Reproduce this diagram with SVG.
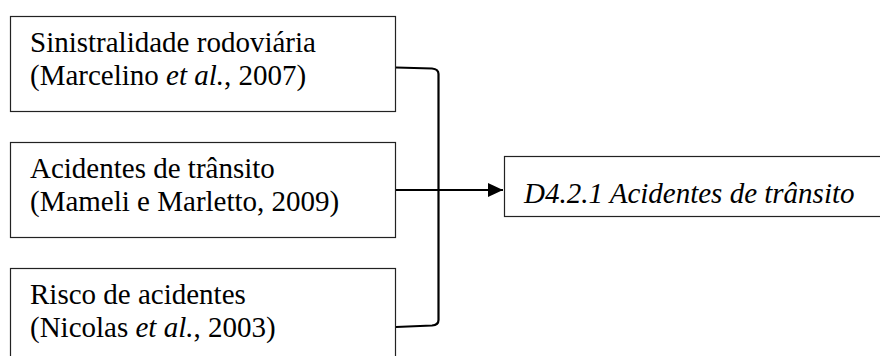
<svg xmlns="http://www.w3.org/2000/svg" width="880" height="356" viewBox="0 0 880 356">
  <defs>
    <style>
      .box { fill: #ffffff; stroke: #222222; stroke-width: 1.2; }
      .lbl { font-family: "Liberation Serif", "Times New Roman", serif; font-size: 29px; fill: #000000; }
      .it { font-style: italic; }
      .conn { fill: none; stroke: #000000; stroke-width: 2.2; }
    </style>
    <marker id="arrow" markerWidth="16" markerHeight="14" refX="15" refY="7" orient="auto" markerUnits="userSpaceOnUse">
      <path d="M0,0 L15,7 L0,14 Z" fill="#000000"/>
    </marker>
  </defs>
  <rect width="880" height="356" fill="#ffffff"/>

  <!-- three source boxes on the left -->
  <g id="source-sinistralidade">
    <rect class="box" x="10.5" y="16.5" width="385" height="95"/>
    <text class="lbl" x="30" y="52">Sinistralidade rodoviária</text>
    <text class="lbl" x="30" y="85">(Marcelino <tspan class="it">et al.</tspan>, 2007)</text>
  </g>

  <g id="source-acidentes">
    <rect class="box" x="10.5" y="142.5" width="385" height="95"/>
    <text class="lbl" x="30" y="178">Acidentes de trânsito</text>
    <text class="lbl" x="30" y="211">(Mameli e Marletto, 2009)</text>
  </g>

  <g id="source-risco">
    <rect class="box" x="10.5" y="268.5" width="385" height="100"/>
    <text class="lbl" x="30" y="304">Risco de acidentes</text>
    <text class="lbl" x="30" y="337">(Nicolas <tspan class="it">et al.</tspan>, 2003)</text>
  </g>

  <!-- resulting indicator -->
  <g id="target-d421">
    <rect class="box" x="504.5" y="156.5" width="390" height="60"/>
    <text class="lbl it" x="524" y="203">D4.2.1 Acidentes de trânsito</text>
  </g>

  <!-- bracket joining the sources, and the arrow to the indicator -->
  <g id="connectors">
    <path class="conn" d="M396,67.5 L432,68.5 Q438.5,69 438.5,74 V320 Q438.5,325 432,325.5 L396,327"/>
    <path class="conn" d="M396,190 H503" marker-end="url(#arrow)"/>
  </g>
</svg>
